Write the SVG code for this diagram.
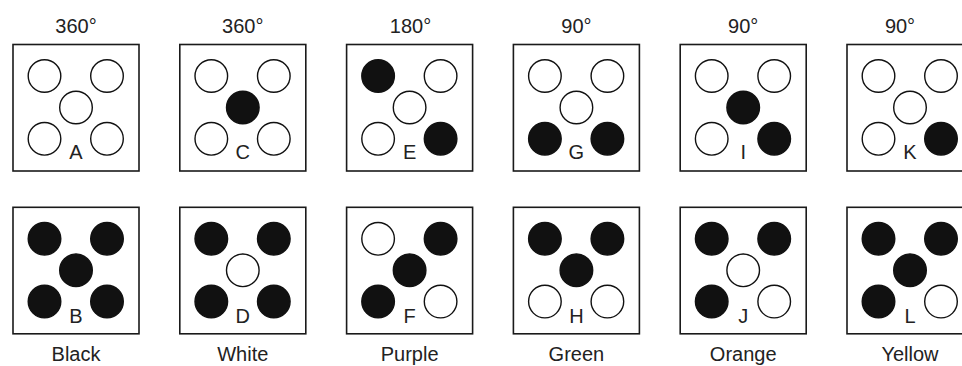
<svg xmlns="http://www.w3.org/2000/svg" width="962" height="366" viewBox="0 0 962 366">
  <style>
    .box { fill: #fff; stroke: #1a1a1a; stroke-width: 1.6; }
    .w { fill: #fff; stroke: #111; stroke-width: 1.4; }
    .b { fill: #111; stroke: #111; stroke-width: 1.4; }
    .lbl { font-family: "Liberation Sans", Arial, sans-serif; font-size: 20px; fill: #222; text-anchor: middle; }
  </style>
  <rect width="962" height="366" fill="#fff"/>

  <!-- angle captions -->
  <g id="angles" class="lbl">
    <text x="76" y="32.5">360°</text>
    <text x="242.8" y="32.5">360°</text>
    <text x="410.5" y="32.5">180°</text>
    <text x="576.4" y="32.5">90°</text>
    <text x="743.2" y="32.5">90°</text>
    <text x="900" y="32.5">90°</text>
  </g>

  <!-- colour captions -->
  <g id="colours" class="lbl">
    <text x="76" y="361">Black</text>
    <text x="242.8" y="361">White</text>
    <text x="409.6" y="361">Purple</text>
    <text x="576.4" y="361">Green</text>
    <text x="743.2" y="361">Orange</text>
    <text x="910" y="361">Yellow</text>
  </g>

  <!-- top row: A C E G I K -->
  <g id="A" transform="translate(13,44.5)">
    <rect class="box" width="126" height="126.5"/>
    <circle class="w" cx="31.5" cy="31.5" r="16.3"/>
    <circle class="w" cx="94" cy="31.5" r="16.3"/>
    <circle class="w" cx="63" cy="63" r="16.3"/>
    <circle class="w" cx="31.5" cy="94.3" r="16.3"/>
    <circle class="w" cx="94" cy="94.3" r="16.3"/>
    <text class="lbl" x="63" y="114.8">A</text>
  </g>
  <g id="C" transform="translate(179.8,44.5)">
    <rect class="box" width="126" height="126.5"/>
    <circle class="w" cx="31.5" cy="31.5" r="16.3"/>
    <circle class="w" cx="94" cy="31.5" r="16.3"/>
    <circle class="b" cx="63" cy="63" r="16.3"/>
    <circle class="w" cx="31.5" cy="94.3" r="16.3"/>
    <circle class="w" cx="94" cy="94.3" r="16.3"/>
    <text class="lbl" x="63" y="114.8">C</text>
  </g>
  <g id="E" transform="translate(346.6,44.5)">
    <rect class="box" width="126" height="126.5"/>
    <circle class="b" cx="31.5" cy="31.5" r="16.3"/>
    <circle class="w" cx="94" cy="31.5" r="16.3"/>
    <circle class="w" cx="63" cy="63" r="16.3"/>
    <circle class="w" cx="31.5" cy="94.3" r="16.3"/>
    <circle class="b" cx="94" cy="94.3" r="16.3"/>
    <text class="lbl" x="63" y="114.8">E</text>
  </g>
  <g id="G" transform="translate(513.4,44.5)">
    <rect class="box" width="126" height="126.5"/>
    <circle class="w" cx="31.5" cy="31.5" r="16.3"/>
    <circle class="w" cx="94" cy="31.5" r="16.3"/>
    <circle class="w" cx="63" cy="63" r="16.3"/>
    <circle class="b" cx="31.5" cy="94.3" r="16.3"/>
    <circle class="b" cx="94" cy="94.3" r="16.3"/>
    <text class="lbl" x="63" y="114.8">G</text>
  </g>
  <g id="I" transform="translate(680.2,44.5)">
    <rect class="box" width="126" height="126.5"/>
    <circle class="w" cx="31.5" cy="31.5" r="16.3"/>
    <circle class="w" cx="94" cy="31.5" r="16.3"/>
    <circle class="b" cx="63" cy="63" r="16.3"/>
    <circle class="w" cx="31.5" cy="94.3" r="16.3"/>
    <circle class="b" cx="94" cy="94.3" r="16.3"/>
    <text class="lbl" x="63" y="114.8">I</text>
  </g>
  <g id="K" transform="translate(847,44.5)">
    <rect class="box" width="126" height="126.5"/>
    <circle class="w" cx="31.5" cy="31.5" r="16.3"/>
    <circle class="w" cx="94" cy="31.5" r="16.3"/>
    <circle class="w" cx="63" cy="63" r="16.3"/>
    <circle class="w" cx="31.5" cy="94.3" r="16.3"/>
    <circle class="b" cx="94" cy="94.3" r="16.3"/>
    <text class="lbl" x="63" y="114.8">K</text>
  </g>

  <!-- bottom row: B D F H J L -->
  <g id="B" transform="translate(13,207.3)">
    <rect class="box" width="126" height="126.5"/>
    <circle class="b" cx="31.5" cy="31.5" r="16.3"/>
    <circle class="b" cx="94" cy="31.5" r="16.3"/>
    <circle class="b" cx="63" cy="63" r="16.3"/>
    <circle class="b" cx="31.5" cy="94.3" r="16.3"/>
    <circle class="b" cx="94" cy="94.3" r="16.3"/>
    <text class="lbl" x="63" y="115.5">B</text>
  </g>
  <g id="D" transform="translate(179.8,207.3)">
    <rect class="box" width="126" height="126.5"/>
    <circle class="b" cx="31.5" cy="31.5" r="16.3"/>
    <circle class="b" cx="94" cy="31.5" r="16.3"/>
    <circle class="w" cx="63" cy="63" r="16.3"/>
    <circle class="b" cx="31.5" cy="94.3" r="16.3"/>
    <circle class="b" cx="94" cy="94.3" r="16.3"/>
    <text class="lbl" x="63" y="115.5">D</text>
  </g>
  <g id="F" transform="translate(346.6,207.3)">
    <rect class="box" width="126" height="126.5"/>
    <circle class="w" cx="31.5" cy="31.5" r="16.3"/>
    <circle class="b" cx="94" cy="31.5" r="16.3"/>
    <circle class="b" cx="63" cy="63" r="16.3"/>
    <circle class="b" cx="31.5" cy="94.3" r="16.3"/>
    <circle class="w" cx="94" cy="94.3" r="16.3"/>
    <text class="lbl" x="63" y="115.5">F</text>
  </g>
  <g id="H" transform="translate(513.4,207.3)">
    <rect class="box" width="126" height="126.5"/>
    <circle class="b" cx="31.5" cy="31.5" r="16.3"/>
    <circle class="b" cx="94" cy="31.5" r="16.3"/>
    <circle class="b" cx="63" cy="63" r="16.3"/>
    <circle class="w" cx="31.5" cy="94.3" r="16.3"/>
    <circle class="w" cx="94" cy="94.3" r="16.3"/>
    <text class="lbl" x="63" y="115.5">H</text>
  </g>
  <g id="J" transform="translate(680.2,207.3)">
    <rect class="box" width="126" height="126.5"/>
    <circle class="b" cx="31.5" cy="31.5" r="16.3"/>
    <circle class="b" cx="94" cy="31.5" r="16.3"/>
    <circle class="w" cx="63" cy="63" r="16.3"/>
    <circle class="b" cx="31.5" cy="94.3" r="16.3"/>
    <circle class="w" cx="94" cy="94.3" r="16.3"/>
    <text class="lbl" x="63" y="115.5">J</text>
  </g>
  <g id="L" transform="translate(847,207.3)">
    <rect class="box" width="126" height="126.5"/>
    <circle class="b" cx="31.5" cy="31.5" r="16.3"/>
    <circle class="b" cx="94" cy="31.5" r="16.3"/>
    <circle class="b" cx="63" cy="63" r="16.3"/>
    <circle class="b" cx="31.5" cy="94.3" r="16.3"/>
    <circle class="w" cx="94" cy="94.3" r="16.3"/>
    <text class="lbl" x="63" y="115.5">L</text>
  </g>

  <!-- no connectors in this figure -->
  <g id="connectors"/>
</svg>
